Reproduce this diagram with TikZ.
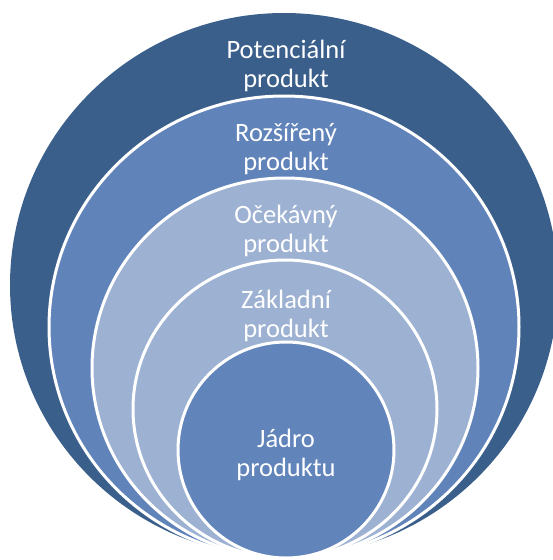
\documentclass[tikz,border=0pt]{standalone}
\usepackage{fontspec}
\setmainfont{Carlito}
\definecolor{ringA}{RGB}{59,95,139}
\definecolor{ringB}{RGB}{96,131,186}
\definecolor{ringC}{RGB}{157,177,210}
\definecolor{ringCore}{RGB}{97,132,187}
\tikzset{
  ring/.style={draw=white, line width=3pt},
  lbl/.style={text=white, align=center, font=\fontsize{26.5}{28.5}\selectfont, inner sep=0pt}
}
\begin{document}
\begin{tikzpicture}[x=1pt,y=-1pt]
\useasboundingbox (0,0) rectangle (553,560);
\clip (0,0) rectangle (553,560);
\fill[ringA] (284,285) ellipse [x radius=274pt, y radius=272pt];
\filldraw[ring, fill=ringB] (284,327) ellipse [x radius=235pt, y radius=231pt];
\filldraw[ring, fill=ringC] (285,368) ellipse [x radius=193pt, y radius=190pt];
\filldraw[ring, fill=ringC] (285,409) ellipse [x radius=152pt, y radius=149pt];
\filldraw[ring, fill=ringCore] (286,450) circle [radius=108pt];
\node[lbl] (pot) at (286,66) {Potenciální\\produkt};
\node[lbl] (roz) at (286,149) {Rozšířený\\produkt};
\node[lbl] (oce) at (286,231) {Očekávný\\produkt};
\node[lbl] (zak) at (286,316) {Základní\\produkt};
\node[lbl] (jad) at (286,455) {Jádro\\produktu};
\end{tikzpicture}
\end{document}
